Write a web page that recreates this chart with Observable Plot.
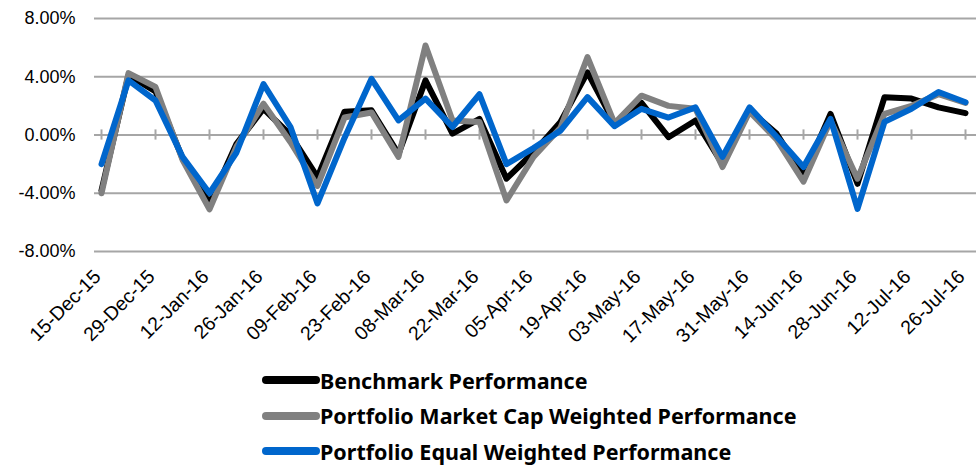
<!DOCTYPE html>
<html>
<head>
<meta charset="utf-8">
<script src="https://cdn.jsdelivr.net/npm/d3@7"></script>
<script src="https://cdn.jsdelivr.net/npm/@observablehq/plot@0.6"></script>
<style>
  html, body { margin: 0; padding: 0; background: #fff; }
  #wrap { width: 976px; height: 468px; overflow: hidden; }
  #legend { position: relative; height: 108px; font-family: "Noto Sans", "Open Sans", sans-serif; font-weight: 700; font-size: 21.5px; color: #000; }
  .row { position: absolute; left: 262px; display: flex; align-items: center; height: 30px; }
  .sw { width: 58px; height: 8px; border-radius: 4px; margin-right: 0px; }
</style>
</head>
<body>
<div id="wrap">
  <div id="chart"></div>
  <div id="legend"></div>
</div>
<script>
const dates = ["15-Dec-15","22-Dec-15","29-Dec-15","05-Jan-16","12-Jan-16","19-Jan-16","26-Jan-16","02-Feb-16","09-Feb-16","16-Feb-16","23-Feb-16","01-Mar-16","08-Mar-16","15-Mar-16","22-Mar-16","29-Mar-16","05-Apr-16","12-Apr-16","19-Apr-16","26-Apr-16","03-May-16","10-May-16","17-May-16","24-May-16","31-May-16","07-Jun-16","14-Jun-16","21-Jun-16","28-Jun-16","05-Jul-16","12-Jul-16","19-Jul-16","26-Jul-16"];
const xTickLabels = ["15-Dec-15","29-Dec-15","12-Jan-16","26-Jan-16","09-Feb-16","23-Feb-16","08-Mar-16","22-Mar-16","05-Apr-16","19-Apr-16","03-May-16","17-May-16","31-May-16","14-Jun-16","28-Jun-16","12-Jul-16","26-Jul-16"];
const yTicks = [-8, -4, 0, 4, 8];

const seriesNames = ["Benchmark Performance","Portfolio Market Cap Weighted Performance","Portfolio Equal Weighted Performance"];
const seriesColors = ["#000000","#808080","#0066CC"];

const benchmark = [-3.8, 4.1, 3.0, -1.6, -4.7, -0.6, 1.8, 0.0, -2.9, 1.6, 1.7, -1.3, 3.75, 0.1, 1.1, -3.0, -1.2, 0.9, 4.3, 0.8, 2.2, -0.15, 1.0, -2.0, 1.7, 0.1, -2.8, 1.45, -3.35, 2.6, 2.5, 1.9, 1.5];
const marketCap = [-4.0, 4.25, 3.3, -1.7, -5.1, -0.8, 2.15, -0.5, -3.5, 1.2, 1.55, -1.5, 6.15, 1.0, 0.9, -4.5, -1.5, 0.5, 5.35, 0.8, 2.7, 2.0, 1.8, -2.2, 1.6, -0.3, -3.2, 1.0, -3.0, 1.45, 2.0, 2.8, 2.2];
const equalWeighted = [-2.0, 3.75, 2.37, -1.5, -4.0, -1.2, 3.5, 0.55, -4.7, -0.2, 3.86, 1.0, 2.5, 0.55, 2.8, -2.0, -0.9, 0.3, 2.6, 0.6, 1.8, 1.2, 1.9, -1.5, 1.9, -0.1, -2.2, 1.1, -5.07, 0.9, 1.8, 2.95, 2.25];

const allSeries = [benchmark, marketCap, equalWeighted];
const gridColor = "#a6a6a6";
const axisFont = "Arial, 'Liberation Sans', sans-serif";

const lineMarks = allSeries.map((vals, k) =>
  Plot.line(vals.map((v, i) => ({date: dates[i], v})), {
    x: "date", y: "v", stroke: seriesColors[k], strokeWidth: 6,
    strokeLinejoin: "round", strokeLinecap: "round"
  })
);

const chart = Plot.plot({
  width: 976,
  height: 360,
  marginLeft: 94,
  marginRight: 5,
  marginTop: 18,
  marginBottom: 109,
  style: {fontFamily: axisFont, fontSize: "17px", color: "#000", background: "#fff", overflow: "visible"},
  x: {type: "point", domain: dates, padding: 0},
  y: {domain: [-8, 8]},
  marks: [
    Plot.ruleY(yTicks, {stroke: gridColor, strokeWidth: 2, insetRight: -5}),
    Plot.ruleX(xTickLabels, {x: d => d, y1: -0.35, y2: 0.35, stroke: gridColor, strokeWidth: 2}),
    ...lineMarks,
    Plot.axisY({ticks: yTicks, tickFormat: d => d.toFixed(2) + "%", tickSize: 0, tickPadding: 19, fontSize: 18, fontFamily: axisFont, label: null}),
    Plot.axisX({ticks: xTickLabels, tickRotate: -45, tickSize: 0, tickPadding: 19, dx: -4, dy: 3, fontSize: 19.5, fontFamily: axisFont, label: null})
  ]
});
document.getElementById("chart").appendChild(chart);

const legend = document.getElementById("legend");
seriesNames.forEach((name, k) => {
  const row = document.createElement("div");
  row.className = "row";
  row.style.top = (5 + k * 35.5) + "px";
  const sw = document.createElement("div");
  sw.className = "sw";
  sw.style.background = seriesColors[k];
  const t = document.createElement("span");
  t.textContent = name;
  row.appendChild(sw);
  row.appendChild(t);
  legend.appendChild(row);
});
</script>
</body>
</html>
